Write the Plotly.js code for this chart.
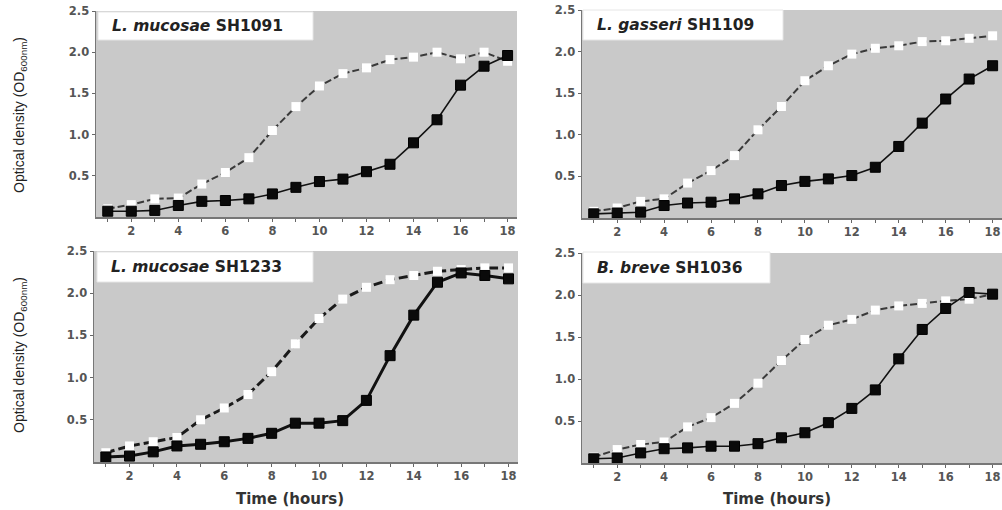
<!DOCTYPE html>
<html>
<head>
<meta charset="utf-8">
<script src="https://cdn.plot.ly/plotly-3.0.1.min.js"></script>
<style>html,body{margin:0;padding:0;background:#fff;}#chart{width:1002px;height:510px;}</style>
</head>
<body>
<div id="chart"></div>
<script>
// Time points (hours)
const hours = [1,2,3,4,5,6,7,8,9,10,11,12,13,14,15,16,17,18];

// Panel titles
const speciesNames = ["L. mucosae", "L. gasseri", "L. mucosae", "B. breve"];
const strainNames  = ["SH1091", "SH1109", "SH1233", "SH1036"];

// Black (filled) series per panel
const blackA = [0.07,0.07,0.08,0.14,0.19,0.20,0.22,0.28,0.36,0.43,0.46,0.55,0.64,0.90,1.18,1.60,1.83,1.96];
const blackB = [0.05,0.06,0.07,0.15,0.18,0.19,0.23,0.29,0.39,0.44,0.47,0.51,0.61,0.86,1.14,1.43,1.67,1.83];
const blackC = [0.06,0.07,0.12,0.19,0.21,0.24,0.28,0.34,0.46,0.46,0.49,0.73,1.26,1.74,2.13,2.24,2.21,2.17];
const blackD = [0.05,0.06,0.12,0.17,0.18,0.20,0.20,0.23,0.30,0.36,0.48,0.65,0.87,1.24,1.59,1.84,2.03,2.01];

// White (open) series per panel
const whiteA = [0.10,0.15,0.22,0.23,0.40,0.54,0.72,1.05,1.34,1.59,1.74,1.81,1.91,1.94,2.00,1.92,2.00,1.89];
const whiteB = [0.08,0.12,0.20,0.23,0.42,0.57,0.75,1.06,1.34,1.65,1.83,1.97,2.04,2.07,2.12,2.13,2.16,2.19];
const whiteC = [0.11,0.19,0.24,0.29,0.50,0.64,0.80,1.07,1.40,1.70,1.93,2.07,2.16,2.21,2.26,2.28,2.30,2.30];
const whiteD = [0.07,0.16,0.22,0.25,0.43,0.54,0.71,0.95,1.22,1.47,1.64,1.71,1.82,1.87,1.90,1.93,1.95,2.01];

// Tick labels
const xTickVals = [2,4,6,8,10,12,14,16,18];
const yTickVals = [0.5,1.0,1.5,2.0,2.5];
const yTickText = ["0.5","1.0","1.5","2.0","2.5"];

const yTitle = "Optical density (OD<sub>600nm</sub>)";
const xTitle = "Time (hours)";

const W = 1002, H = 510;
const px = v => v / W;
const py = v => 1 - v / H;

// panel boxes in pixels: [left, right, top, bottom]
const boxes = [[96,517,11,217],[582,1002,10,218],[94,518,251,462],[582,1002,253,463]];
const labelBoxes = [[98,313,12,40],[583,783,10,40],[97,313,252,282],[583,770,252,283]];
const whites = [whiteA, whiteB, whiteC, whiteD];
const blacks = [blackA, blackB, blackC, blackD];
const heavy = [false,false,true,false];

const data = [];
const layout = {
  width: W, height: H,
  margin: {l:0, r:0, t:0, b:0},
  paper_bgcolor: '#ffffff',
  showlegend: false,
  font: {family: 'DejaVu Sans', color: '#555'},
  shapes: [], annotations: []
};

for (let i = 0; i < 4; i++) {
  const s = i === 0 ? '' : String(i + 1);
  const b = boxes[i];
  data.push({
    x: hours, y: whites[i], xaxis: 'x' + s, yaxis: 'y' + s, type: 'scatter', mode: 'lines+markers',
    line: {color: heavy[i] ? '#1a1a1a' : '#3a3a3a', width: heavy[i] ? 3 : 2, dash: heavy[i] ? '9px,4px' : '7px,3px'},
    marker: {symbol: 'square', size: 9, color: '#ffffff', line: {width: 0}}
  });
  data.push({
    x: hours, y: blacks[i], xaxis: 'x' + s, yaxis: 'y' + s, type: 'scatter', mode: 'lines+markers',
    line: {color: '#111', width: heavy[i] ? 3 : 1.6},
    marker: {symbol: 'square', size: 10, color: '#0a0a0a', line: {color: '#000', width: 1}}
  });
  layout['xaxis' + s] = {
    domain: [px(b[0]), px(b[1])], anchor: 'y' + s,
    range: [0.5, 18.4], tickvals: xTickVals, ticks: 'outside', ticklen: 3, tickcolor: '#666',
    minor: {dtick: 1, tick0: 0, ticks: 'outside', ticklen: 3, tickcolor: '#666'},
    showline: true, linecolor: '#777', linewidth: 1.5, showgrid: false, zeroline: false,
    tickfont: {family: 'DejaVu Sans', size: 11.5, color: '#555', weight: 'bold'}
  };
  layout['yaxis' + s] = {
    domain: [py(b[3]), py(b[2])], anchor: 'x' + s,
    range: [0, 2.5], tickvals: yTickVals, ticktext: yTickText, ticks: 'outside', ticklen: 3, tickcolor: '#666',
    showline: true, linecolor: '#777', linewidth: 1.5, showgrid: false, zeroline: false,
    tickfont: {family: 'DejaVu Sans', size: 11.5, color: '#555', weight: 'bold'}
  };
  // plot background
  layout.shapes.push({type: 'rect', xref: 'paper', yref: 'paper', layer: 'below',
    x0: px(b[0]), x1: px(b[1]), y0: py(b[3]), y1: py(b[2]),
    fillcolor: '#c9c9c9', line: {width: 0}});
  const lb = labelBoxes[i];
  layout.shapes.push({type: 'rect', xref: 'paper', yref: 'paper', layer: 'above',
    x0: px(lb[0]), x1: px(lb[1]), y0: py(lb[3]), y1: py(lb[2]),
    fillcolor: '#ffffff', line: {color: '#e6e6e6', width: 1}});
  layout.annotations.push({xref: 'paper', yref: 'paper', x: px(lb[0] + 12), y: py((lb[2] + lb[3]) / 2),
    xanchor: 'left', yanchor: 'middle', showarrow: false,
    text: '<i>' + speciesNames[i] + '</i> ' + strainNames[i],
    font: {family: 'DejaVu Sans', size: 15.5, color: '#222', weight: 'bold'}});
}

// y axis titles
[[20, 115], [20, 355]].forEach(p => {
  layout.annotations.push({xref: 'paper', yref: 'paper', x: px(p[0]), y: py(p[1]),
    xanchor: 'center', yanchor: 'middle', textangle: -90, showarrow: false,
    text: yTitle, font: {family: 'Liberation Sans', size: 14, color: '#222'}});
});
// x axis titles
[[290, 499], [777, 499]].forEach(p => {
  layout.annotations.push({xref: 'paper', yref: 'paper', x: px(p[0]), y: py(p[1]),
    xanchor: 'center', yanchor: 'middle', showarrow: false,
    text: xTitle, font: {family: 'DejaVu Sans', size: 15, color: '#333', weight: 'bold'}});
});

Plotly.newPlot('chart', data, layout, {staticPlot: true, displayModeBar: false});
</script>
</body>
</html>
